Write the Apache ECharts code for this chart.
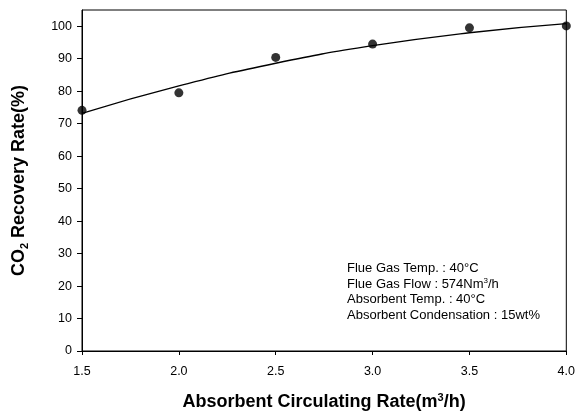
<!DOCTYPE html>
<html><head><meta charset="utf-8">
<script src="https://cdn.jsdelivr.net/npm/echarts@6/dist/echarts.min.js"></script>
<style>html,body{margin:0;padding:0;background:#fff}#c{width:578px;height:416px}</style>
</head><body><div id="c"></div>
<script>
const xValues = [1.5, 2.0, 2.5, 3.0, 3.5, 4.0];
const measured = [74.1, 79.5, 90.4, 94.5, 99.5, 100.1];
const fitX = [1.5, 2.0, 2.5, 3.0, 3.5, 4.0];
const fitY = [73.2, 81.6, 88.6, 94.0, 98.0, 100.8];
const notes = ['Flue Gas Temp. : 40°C', 'Flue Gas Flow : 574Nm{s|3}/h', 'Absorbent Temp. : 40°C', 'Absorbent Condensation : 15wt%'];

const font = 'Liberation Sans, Arial, sans-serif';
const chart = echarts.init(document.getElementById('c'));
chart.setOption({
  animation: false,
  backgroundColor: '#fff',
  grid: { left: 82, right: 9, top: 10, bottom: 65, show: true, borderColor: '#000', borderWidth: 1 },
  xAxis: {
    type: 'value', min: 1.5, max: 4.0, interval: 0.5,
    axisLine: { lineStyle: { color: '#000', width: 1 } },
    axisTick: { show: true, length: 4, lineStyle: { color: '#000' } },
    splitLine: { show: false },
    axisLabel: { color: '#000', fontFamily: font, fontSize: 12.5, margin: 14, formatter: v => v.toFixed(1) },
    name: 'Absorbent Circulating Rate(m{s|3}/h)',
    nameLocation: 'middle', nameGap: 41,
    nameTextStyle: { color: '#000', fontFamily: font, fontSize: 18, fontWeight: 'bold',
      rich: { s: { fontSize: 11, fontWeight: 'bold', fontFamily: font, color: '#000', verticalAlign: 'top', padding: [0,0,9,0] } } }
  },
  yAxis: {
    type: 'value', min: 0, max: 105, interval: 10,
    axisLine: { show: true, lineStyle: { color: '#000', width: 1 } },
    axisTick: { show: true, length: 5, lineStyle: { color: '#000' } },
    splitLine: { show: false },
    axisLabel: { color: '#000', fontFamily: font, fontSize: 12.5, margin: 10, showMaxLabel: false },
    name: 'CO{s|2} Recovery Rate(%)',
    nameLocation: 'middle', nameGap: 52,
    nameTextStyle: { color: '#000', fontFamily: font, fontSize: 18, fontWeight: 'bold',
      rich: { s: { fontSize: 11, fontWeight: 'bold', fontFamily: font, color: '#000', padding: [11,0,0,0] } } }
  },
  graphic: [{
    type: 'text', left: 347, top: 261,
    style: { text: notes.join('\n'), fill: '#000', font: '13px ' + font, lineHeight: 15.5,
      rich: { s: { fontSize: 8, fontFamily: font, fill: '#000', padding: [0,0,6,0] } } }
  }],
  series: [
    { type: 'line', data: fitX.map((x, i) => [x, fitY[i]]), smooth: true, showSymbol: false,
      lineStyle: { color: '#000', width: 1.3 }, z: 2 },
    { type: 'scatter', data: xValues.map((x, i) => [x, measured[i]]), symbolSize: 9,
      itemStyle: { color: '#000' }, z: 3 }
  ]
});
</script></body></html>
